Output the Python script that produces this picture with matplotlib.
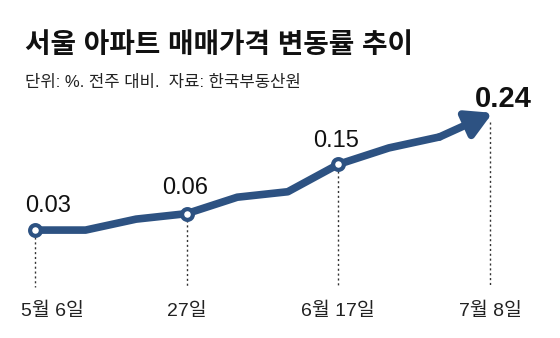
import matplotlib.pyplot as plt

plt.rcParams['font.family'] = ['Liberation Sans', 'Noto Sans CJK KR', 'DejaVu Sans']

weeks = ['5/6', '5/13', '5/20', '5/27', '6/3', '6/10', '6/17', '6/24', '7/1', '7/8']
change = [0.03, 0.03, 0.05, 0.06, 0.09, 0.10, 0.15, 0.18, 0.20, 0.24]
tick_idx = [0, 3, 6, 9]
tick_labels = ['5월 6일', '27일', '6월 17일', '7월 8일']
label_idx = [0, 3, 6]

title = '서울 아파트 매매가격 변동률 추이'
subtitle = '단위: %. 전주 대비.  자료: 한국부동산원'

navy = '#2d5282'
W, H = 560, 338

fig = plt.figure(figsize=(W / 100, H / 100), dpi=100)
ax = fig.add_axes([0, 0, 1, 1])
ax.set_xlim(-0.692, 10.384)
ax.set_ylim(-0.167, 0.45)
ax.axis('off')

x = list(range(len(weeks)))

# dotted drop lines under the labelled weeks
for i in tick_idx:
    ax.plot([i, i], [change[i] - 0.012, -0.074], color='#333333', lw=1,
            ls=(0, (1.5, 2)), zorder=1)

# main line, arrow on the last segment
ax.plot(x[:-1], change[:-1], color=navy, lw=5.5, solid_joinstyle='round',
        solid_capstyle='round', zorder=2)
ax.annotate('', xy=(x[-1] + 0.05, change[-1] + 0.004), xytext=(x[-2], change[-2]),
            arrowprops=dict(arrowstyle='-|>,head_length=0.75,head_width=0.42',
                            color=navy, lw=5.5, shrinkA=0, shrinkB=0,
                            mutation_scale=20), zorder=2)

ax.scatter([x[i] for i in label_idx], [change[i] for i in label_idx], s=60,
           facecolor='white', edgecolor=navy, linewidth=3, zorder=3)

offsets = {0: (13, 18), 3: (-2, 20), 6: (-2, 17)}
for i in label_idx:
    ax.annotate(f'{change[i]:.2f}', xy=(x[i], change[i]), xytext=offsets[i],
                textcoords='offset pixels', ha='center', va='baseline',
                fontsize=17, color='#111111')
ax.annotate(f'{change[-1]:.2f}', xy=(x[-1], change[-1]), xytext=(13, 8),
            textcoords='offset pixels', ha='center', va='baseline',
            fontsize=21, fontweight='bold', color='#111111')

for i, lab in zip(tick_idx, tick_labels):
    xx = i + 0.35 if i == 0 else i
    ax.text(xx, -0.118, lab, ha='center', va='center', fontsize=14,
            color='#222222')

fig.text(25 / W, 1 - 46 / H, title, ha='left', va='center', fontsize=20,
         fontweight='bold', color='#111111')
fig.text(25 / W, 1 - 83 / H, subtitle, ha='left', va='center', fontsize=12,
         color='#222222')

fig.savefig('out.png', dpi=100)
